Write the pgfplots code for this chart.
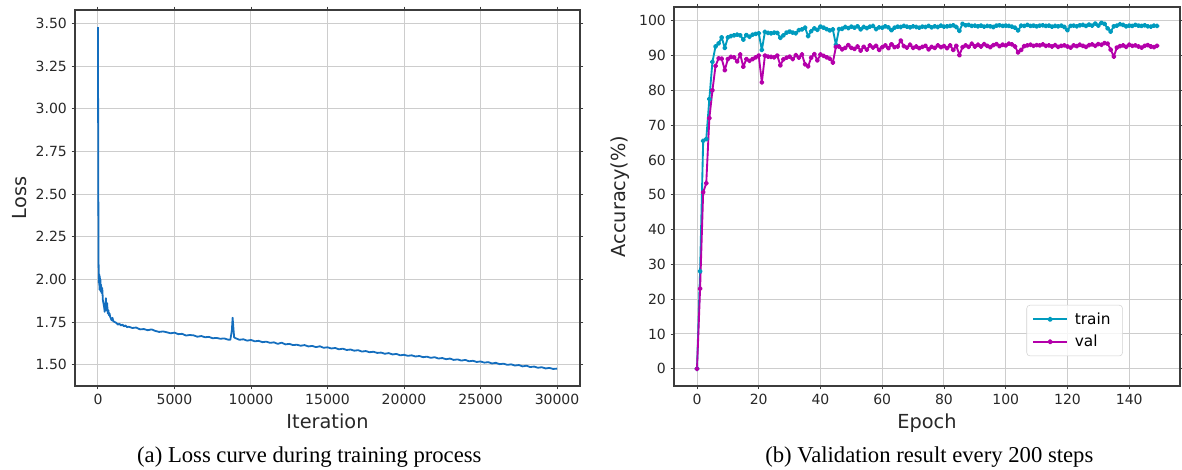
\documentclass[border=0pt]{standalone}
\usepackage{fontspec}
\setmainfont{DejaVu Sans}
\newfontfamily\capfont{Liberation Serif}
\usepackage{pgfplots}
\pgfplotsset{compat=1.18}

\definecolor{lossblue}{RGB}{20,110,190}
\definecolor{traincyan}{RGB}{0,155,190}
\definecolor{valmag}{RGB}{180,0,170}
\definecolor{gridgray}{RGB}{205,205,205}
\definecolor{spine}{RGB}{60,60,60}
\definecolor{ticktext}{RGB}{40,40,40}

\pgfplotsset{mpl/.style={
  scale only axis,
  axis line style={spine, line width=0.9pt},
  grid=major,
  major grid style={gridgray, line width=0.75pt},
  tick align=outside,
  major tick length=2.6pt,
  tick style={spine, line width=0.7pt},
  ticklabel style={font=\fontsize{10.5}{12}\selectfont, text=ticktext},
  label style={font=\fontsize{14.5}{16}\selectfont, text=ticktext},
  /pgf/number format/assume math mode=true,
}}

\begin{document}
\begin{tikzpicture}
\useasboundingbox (0,0) rectangle (886.5pt,-352.5pt);

% (a) loss
\begin{axis}[mpl,
  at={(56.25pt,-7.5pt)}, anchor=north west,
  width=378.75pt, height=282pt,
  xmin=-1500, xmax=31500, ymin=1.375, ymax=3.58,
  xtick={0,5000,...,30000}, ytick={1.5,1.75,...,3.5},
  scaled x ticks=false,
  xticklabel style={/pgf/number format/1000 sep={}},
  yticklabel style={/pgf/number format/.cd, fixed, fixed zerofill, precision=2},
  xlabel={Iteration}, ylabel={Loss}]
\addplot[lossblue, line width=1.35pt, line join=round] coordinates {
(0,3.48) (20,2.60) (40,2.10) (60,1.98) (80,2.03) (100,1.94) (120,2.02)
(140,1.96) (160,2.00) (180,1.93) (200,1.97) (240,1.92) (280,1.95)
(320,1.88) (360,1.86) (400,1.84) (440,1.81) (480,1.83) (520,1.89)
(560,1.82) (600,1.86) (640,1.80) (680,1.82) (720,1.79) (760,1.80)
(800,1.78) (850,1.77) (900,1.76) (950,1.775) (1000,1.755) (1100,1.75)
(1200,1.745) (1300,1.735) (1400,1.74) (1500,1.73) (1600,1.735)
(1700,1.725) (1800,1.73) (1900,1.72)
(2000,1.723) (2250,1.715) (2500,1.718) (2750,1.707) (3000,1.709)
(3250,1.702) (3500,1.707) (3750,1.698) (4000,1.692) (4250,1.695)
(4500,1.690) (4750,1.684) (5000,1.688) (5250,1.679) (5500,1.681)
(5750,1.671) (6000,1.674) (6250,1.672) (6500,1.664) (6750,1.668)
(7000,1.661) (7250,1.663) (7500,1.655) (7750,1.657) (8000,1.652)
(8250,1.654) (8500,1.647) (8650,1.646) (8750,1.700) (8800,1.775)
(8850,1.715) (8900,1.660) (9000,1.655) (9250,1.646) (9500,1.649)
(9750,1.641) (10000,1.645) (10250,1.637) (10500,1.640) (10750,1.632)
(11000,1.635) (11250,1.628) (11500,1.631) (11750,1.622) (12000,1.629)
(12250,1.619) (12500,1.622) (12750,1.615) (13000,1.617) (13250,1.611)
(13500,1.615) (13750,1.607) (14000,1.610) (14250,1.603) (14500,1.608)
(14750,1.599) (15000,1.602) (15250,1.595) (15500,1.598) (15750,1.590)
(16000,1.594) (16250,1.586) (16500,1.589) (16750,1.582) (17000,1.585)
(17250,1.577) (17500,1.580) (17750,1.573) (18000,1.576) (18250,1.569)
(18500,1.571) (18750,1.564) (19000,1.568) (19250,1.560) (19500,1.563)
(19750,1.555) (20000,1.558) (20250,1.552) (20500,1.555) (20750,1.548)
(21000,1.551) (21250,1.544) (21500,1.547) (21750,1.540) (22000,1.544)
(22250,1.536) (22500,1.539) (22750,1.532) (23000,1.536) (23250,1.528)
(23500,1.531) (23750,1.524) (24000,1.528) (24250,1.520) (24500,1.523)
(24750,1.516) (25000,1.519) (25250,1.512) (25500,1.515) (25750,1.507)
(26000,1.511) (26250,1.503) (26500,1.506) (26750,1.499) (27000,1.502)
(27250,1.495) (27500,1.498) (27750,1.490) (28000,1.494) (28250,1.486)
(28500,1.489) (28750,1.482) (29000,1.485) (29250,1.478) (29500,1.481)
(29750,1.475) (30000,1.477)
};
\end{axis}

% (b) accuracy
\begin{axis}[mpl,
  at={(505.5pt,-5.25pt)}, anchor=north west,
  width=379.5pt, height=284.25pt,
  xmin=-7.45, xmax=156.45, ymin=-4.95, ymax=103.95,
  xtick={0,20,...,140}, ytick={0,10,...,100},
  xlabel={Epoch}, ylabel={Accuracy(\%)},
  legend cell align=left,
  legend image code/.code={
    \draw[mark repeat=2, mark phase=2, #1] plot coordinates {(0pt,0pt) (12.75pt,0pt) (25.5pt,0pt)};},
  legend image post style={line width=1.6pt},
  legend style={at={(axis description cs:0.887,0.214)}, anchor=north east,
    font=\fontsize{11.5}{13}\selectfont, draw=gray!35, rounded corners=2.5pt,
    fill=white, fill opacity=0.8, draw opacity=1, text opacity=1, inner xsep=4pt, inner ysep=3.5pt,
    row sep=2.6pt, nodes={inner xsep=5pt}}]
\addplot[traincyan, line width=1.4pt, mark=*, mark size=1.2pt, line join=round] coordinates {
(0,0) (1,28) (2,65.5) (3,66) (4,77.5) (5,88.2) (6,92.6) (7,93.5) (8,95.2) (9,92.2)
(10,95.2) (11,95.6) (12,95.8) (13,96) (14,95.8) (15,94.6) (16,95.9) (17,95.4) (18,96) (19,96.2)
(20,96.4) (21,91.6) (22,96.8) (23,96.5) (24,96.4) (25,96.6) (26,96.5) (27,95.1) (28,95.8) (29,96.6)
(30,96.9) (31,96.6) (32,96.4) (33,97.3) (34,97.5) (35,98) (36,95.6) (37,97) (38,97.8) (39,97.4)
(40,98.3) (41,98) (42,97.6) (43,97.2) (44,97.5) (45,93.1) (46,97.6) (47,97.7) (48,98.2) (49,97.9)
(50,98.3) (51,98) (52,98.4) (53,97.5) (54,98.2) (55,97.9) (56,98.3) (57,98.5) (58,97.6) (59,98.1)
(60,98) (61,98.4) (62,98.1) (63,97.3) (64,98) (65,98.3) (66,98.2) (67,98.5) (68,98.3) (69,98.1)
(70,98.4) (71,98.2) (72,98) (73,98.3) (74,98.2) (75,98.5) (76,98.1) (77,98.4) (78,98.2) (79,98.6)
(80,98.3) (81,98.4) (82,98.5) (83,98.7) (84,98.2) (85,97.1) (86,99.1) (87,98.7) (88,98.8) (89,98.5)
(90,98.6) (91,98.4) (92,98.6) (93,98.3) (94,98.5) (95,98.4) (96,98.2) (97,98.6) (98,98.7) (99,98.5)
(100,98.6) (101,98.5) (102,98.3) (103,98) (104,97.2) (105,98.6) (106,98.5) (107,98.8) (108,98.5) (109,98.6)
(110,98.4) (111,98.6) (112,98.7) (113,98.5) (114,98.6) (115,98.3) (116,98.5) (117,98.4) (118,98.6) (119,98.2)
(120,97.3) (121,98.5) (122,98.6) (123,98.4) (124,98.7) (125,98.8) (126,98.5) (127,98.9) (128,98.6) (129,99.2)
(130,98.6) (131,99.4) (132,99.1) (133,97.8) (134,96.9) (135,98.4) (136,98.6) (137,99) (138,98.8) (139,98.4)
(140,98.6) (141,98.5) (142,98.8) (143,98.6) (144,98.5) (145,98.7) (146,98.4) (147,98.3) (148,98.6) (149,98.5)
};
\addlegendentry{train}
\addplot[valmag, line width=1.4pt, mark=*, mark size=1.2pt, line join=round] coordinates {
(0,0) (1,23) (2,50.7) (3,53.3) (4,72) (5,80) (6,87) (7,89.2) (8,89.1) (9,85.8)
(10,89) (11,89.6) (12,89.5) (13,88.3) (14,90.3) (15,86.8) (16,89) (17,88.5) (18,89) (19,89.5)
(20,90) (21,82.3) (22,90) (23,89.7) (24,89.6) (25,89.5) (26,90) (27,87.2) (28,88.9) (29,89.4)
(30,89.7) (31,89) (32,90.1) (33,89.4) (34,90.3) (35,87.5) (36,86.9) (37,89.4) (38,90.4) (39,88.6)
(40,90.3) (41,89.9) (42,89.5) (43,89.1) (44,88) (45,92.5) (46,92.6) (47,91.8) (48,92.2) (49,93)
(50,92.2) (51,91.9) (52,92.6) (53,91.4) (54,92.5) (55,91.7) (56,92.9) (57,92.3) (58,92.8) (59,91.6)
(60,92.4) (61,92.9) (62,92.1) (63,93.2) (64,92.4) (65,92.6) (66,94.3) (67,92.7) (68,92.3) (69,93.1)
(70,92.2) (71,92.6) (72,92.1) (73,92.5) (74,92.8) (75,91.8) (76,92.5) (77,92.2) (78,92.9) (79,92.4)
(80,92.7) (81,92.1) (82,92.9) (83,91.6) (84,92.8) (85,90.1) (86,92.4) (87,92.9) (88,92.5) (89,93.4)
(90,92.6) (91,93.1) (92,92.6) (93,93.3) (94,92.8) (95,92.4) (96,93) (97,93.3) (98,92.7) (99,93.1)
(100,92.9) (101,93.4) (102,93.2) (103,92.6) (104,90.9) (105,91.6) (106,92.7) (107,92.9) (108,93.1) (109,92.8)
(110,93) (111,92.9) (112,93.2) (113,92.8) (114,92.9) (115,92.6) (116,93) (117,92.5) (118,92.8) (119,92.9)
(120,92.6) (121,92.3) (122,92.9) (123,92.7) (124,93.1) (125,92.8) (126,92.5) (127,93) (128,93.2) (129,92.8)
(130,93.3) (131,93.1) (132,93.6) (133,93.4) (134,91.7) (135,89.7) (136,92.3) (137,92.7) (138,92.9) (139,92.5)
(140,93.1) (141,92.8) (142,92.9) (143,92.6) (144,92.3) (145,92.8) (146,93) (147,92.6) (148,92.4) (149,92.8)
};
\addlegendentry{val}
\end{axis}

\node[font=\capfont\fontsize{17}{20}\selectfont, anchor=base] at (232pt,-347pt) {(a) Loss curve during training process};
\node[font=\capfont\fontsize{17}{20}\selectfont, anchor=base] at (697pt,-347pt) {(b) Validation result every 200 steps};
\end{tikzpicture}
\end{document}
